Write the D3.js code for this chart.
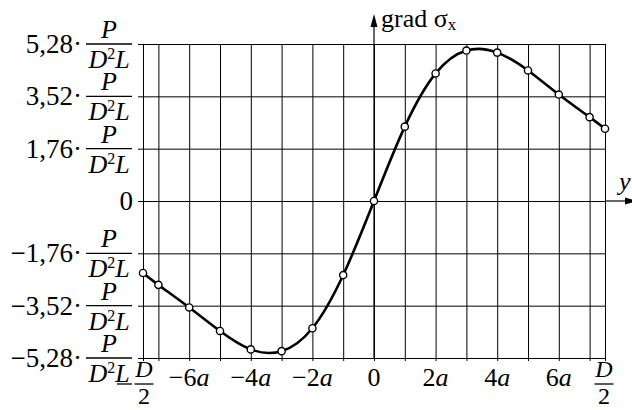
<!DOCTYPE html>
<html>
<head>
<meta charset="utf-8">
<script src="https://cdnjs.cloudflare.com/ajax/libs/d3/7.8.5/d3.min.js"></script>
<style>
body { margin:0; background:#fff; }
svg text { font-family:"Liberation Serif",serif; fill:#000; }
</style>
</head>
<body>
<svg id="chart"></svg>
<script>
// positions in units of a, D/2 = 7.5a
var yPos = [-7.5,-7,-6,-5,-4,-3,-2,-1,0,1,2,3,4,5,6,7,7.5]
// grad sigma_x in units of P/(D^2 L)
var gradVals = [-2.42,-2.82,-3.58,-4.37,-4.99,-5.05,-4.28,-2.49,0,2.50,4.29,5.06,4.99,4.39,3.58,2.82,2.43]

var xGridVals = [-7.5,-7,-6,-5,-4,-3,-2,-1,0,1,2,3,4,5,6,7,7.5]
var xTickVals = [-6,-4,-2,0,2,4,6]
var xTickLabels = ["−6","−4","−2","0","2","4","6"]
var yTickVals = [-5.28,-3.52,-1.76,0,1.76,3.52,5.28]
var yTickLabels = ["−5,28·","−3,52·","−1,76·","0","1,76·","3,52·","5,28·"]

var fs = 26
var screen = {width:632, height:410}
var margins = {top:44, bottom:52, left:143, right:27}
var graph = {
    width:screen.width-margins.left-margins.right,
    height:screen.height-margins.top-margins.bottom
}

var svg = d3.select("#chart")
    .attr("width", screen.width)
    .attr("height", screen.height)
    .attr("font-family","Liberation Serif")

var xScale = d3.scaleLinear()
    .domain([-7.5,7.5])
    .range([margins.left, margins.left+graph.width])
var yScale = d3.scaleLinear()
    .domain([-5.28,5.28])
    .range([margins.top+graph.height, margins.top])

var drawGrid = function()
{
    var gx = svg.append("g")
        .attr("transform","translate(0,"+(margins.top+graph.height+3)+")")
        .call(d3.axisBottom(xScale).tickValues(xGridVals).tickSize(-(graph.height+3)).tickFormat(""))
    gx.select(".domain").remove()
    gx.selectAll("line").attr("stroke","#000").attr("stroke-width",1)

    var gy = svg.append("g")
        .attr("transform","translate("+(margins.left-5)+",0)")
        .call(d3.axisLeft(yScale).tickValues(yTickVals).tickSize(-(graph.width+5)).tickFormat(""))
    gy.select(".domain").remove()
    gy.selectAll("line").attr("stroke","#000").attr("stroke-width",1)

    // axes with arrows
    var x0 = xScale(0), y0 = yScale(0)
    svg.append("line")
        .attr("x1",x0).attr("x2",x0)
        .attr("y1",yScale(-5.28)).attr("y2",24)
        .attr("stroke","#000").attr("stroke-width",1.2)
    svg.append("path")
        .attr("d","M"+x0+",14 L"+(x0-3.5)+",27 L"+(x0+3.5)+",27 Z")
        .attr("fill","#000")
    svg.append("line")
        .attr("x1",xScale(7.5)).attr("x2",626)
        .attr("y1",y0).attr("y2",y0)
        .attr("stroke","#000").attr("stroke-width",1.2)
    svg.append("path")
        .attr("d","M638,"+y0+" L625,"+(y0-3.5)+" L625,"+(y0+3.5)+" Z")
        .attr("fill","#000")
}

var fraction = function(g, cx, yBar, top, bottom, halfW, dTopY, dBotY)
{
    g.append("line")
        .attr("x1",cx-halfW).attr("x2",cx+halfW)
        .attr("y1",yBar).attr("y2",yBar)
        .attr("stroke","#000").attr("stroke-width",1.3)
    top(g.append("text").attr("x",cx).attr("y",yBar-dTopY).attr("text-anchor","middle"))
    bottom(g.append("text").attr("x",cx).attr("y",yBar+dBotY).attr("text-anchor","middle"))
}

var pTop = function(t){ t.append("tspan").attr("font-style","italic").text("P") }
var d2lBottom = function(t){
    t.append("tspan").attr("font-style","italic").text("D")
    t.append("tspan").attr("font-size",16).attr("dy",-9).text("2")
    t.append("tspan").attr("font-style","italic").attr("dy",9).text("L")
}
var dTop = function(t){ t.attr("font-size",24).append("tspan").attr("font-style","italic").text("D") }
var twoBottom = function(t){ t.attr("font-size",24).append("tspan").text("2") }

var drawLabels = function()
{
    var labels = svg.append("g").attr("font-size",fs)

    yTickVals.forEach(function(v,i){
        var yy = yScale(v)
        if (v == 0) {
            labels.append("text")
                .attr("x",133).attr("y",yy+9)
                .attr("text-anchor","end")
                .attr("font-size",27)
                .text(yTickLabels[i])
            return
        }
        labels.append("text")
            .attr("x",82).attr("y",yy+9)
            .attr("text-anchor","end")
            .attr("font-size",27)
            .text(yTickLabels[i])
        var fg = labels.append("g")
        fraction(fg, 109, yy, pTop, d2lBottom, 23, 6, 24)
    })

    xTickVals.forEach(function(v,i){
        var t = labels.append("text")
            .attr("x",xScale(v)).attr("y",386)
            .attr("text-anchor","middle")
        t.append("tspan").text(xTickLabels[i])
        if (v != 0) t.append("tspan").attr("font-style","italic").text("a")
    })

    // -D/2 and D/2
    var lg = labels.append("g")
    fraction(lg, xScale(-7.5)+1, 384, dTop, twoBottom, 9.5, 7, 20)
    lg.append("line")
        .attr("x1",117).attr("x2",132)
        .attr("y1",384).attr("y2",384)
        .attr("stroke","#000").attr("stroke-width",1.3)
    var rg = labels.append("g")
    fraction(rg, xScale(7.5)-1, 384, dTop, twoBottom, 9.5, 7, 20)

    var gt = labels.append("text")
        .attr("x",381).attr("y",27)
    gt.append("tspan").text("grad σ")
    gt.append("tspan").attr("font-size",17).attr("dy",3).text("x")

    labels.append("text")
        .attr("x",619).attr("y",190)
        .attr("font-style","italic")
        .text("y")
}

var drawCurve = function()
{
    var pts = yPos.map(function(p,i){ return {pos:p, val:gradVals[i]} })
    var line = d3.line()
        .x(function(d){ return xScale(d.pos) })
        .y(function(d){ return yScale(d.val) })
        .curve(d3.curveNatural)
    svg.append("path")
        .datum(pts)
        .attr("d",line)
        .attr("fill","none")
        .attr("stroke","#000")
        .attr("stroke-width",2.6)
    svg.append("g")
        .selectAll("circle")
        .data(pts)
        .enter()
        .append("circle")
        .attr("cx",function(d){ return xScale(d.pos) })
        .attr("cy",function(d){ return yScale(d.val) })
        .attr("r",3.6)
        .attr("fill","#fff")
        .attr("stroke","#000")
        .attr("stroke-width",1.4)
}

drawGrid()
drawCurve()
drawLabels()
</script>
</body>
</html>
